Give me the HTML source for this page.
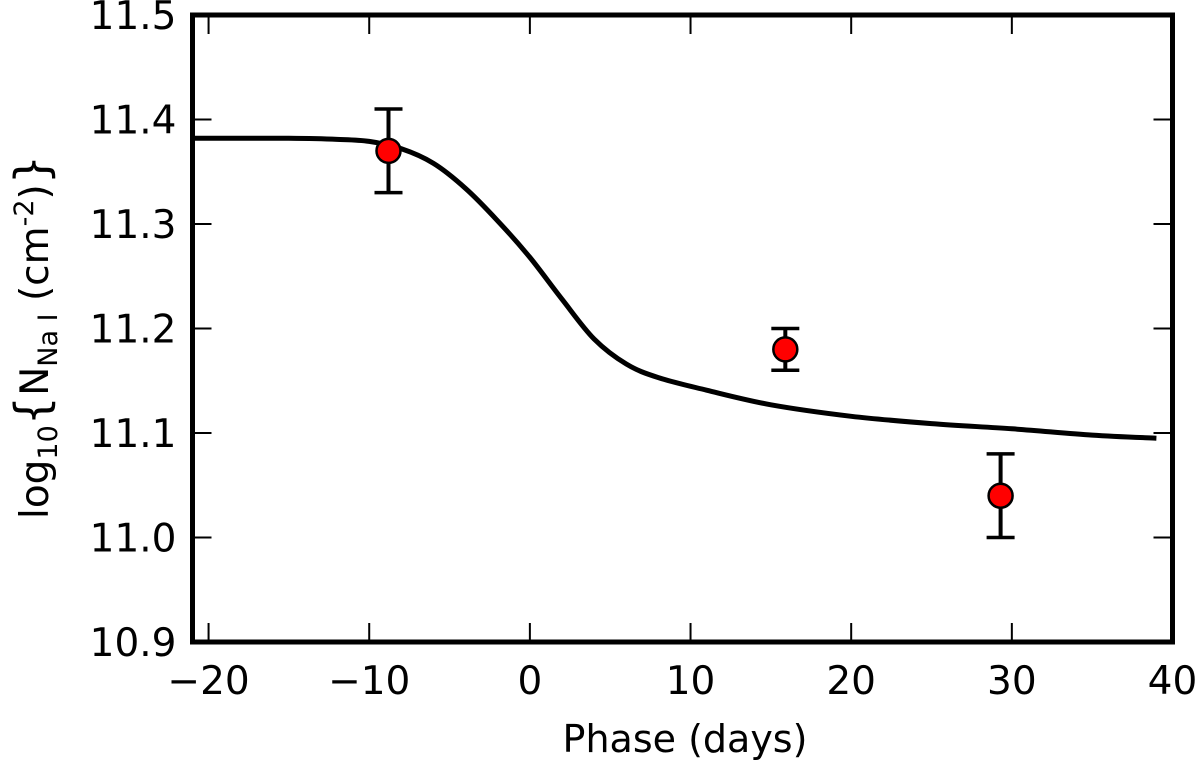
<!DOCTYPE html>
<html><head><meta charset="utf-8"><style>
body{margin:0;background:#fff;}
svg{display:block;font-family:"DejaVu Sans","Liberation Sans",sans-serif;}
</style></head><body>
<svg id="chart" width="1200" height="762" viewBox="0 0 1200 762" xmlns="http://www.w3.org/2000/svg">
<text x="685" y="752" font-size="38" text-anchor="middle">Phase (days)</text>
<text transform="translate(48,337) rotate(-90)" font-size="39" text-anchor="middle">log<tspan font-size="27" dy="9">10</tspan><tspan dy="-9" font-size="46">{</tspan>N<tspan font-size="27" dy="9">Na I</tspan><tspan dy="-9"> (cm</tspan><tspan font-size="27" dy="-15">-2</tspan><tspan dy="15">)</tspan><tspan font-size="46">}</tspan></text>
</svg>
<script>
const xTicks=[-20,-10,0,10,20,30,40];
const yTicks=[10.9,11.0,11.1,11.2,11.3,11.4,11.5];
const yTickLabels=["10.9","11.0","11.1","11.2","11.3","11.4","11.5"];
const modelPhase=[-21,-15,-12,-10,-8,-6,-4,-2,0,2,4,6,8,11,15,20,25,30,35,39];
const modelLogN=[11.382,11.382,11.381,11.379,11.372,11.358,11.334,11.303,11.268,11.228,11.19,11.166,11.153,11.141,11.127,11.116,11.109,11.104,11.098,11.095];
const obsPhase=[-8.8,15.9,29.3];
const obsLogN=[11.37,11.18,11.04];
const obsErr=[0.04,0.02,0.04];

const L=192.5,R=1172.5,T=15,B=642;
const xmin=-21,xmax=40,ymin=10.9,ymax=11.5;
const X=v=>L+(v-xmin)/(xmax-xmin)*(R-L);
const Y=v=>B-(v-ymin)/(ymax-ymin)*(B-T);
const ns="http://www.w3.org/2000/svg";
const svg=document.getElementById('chart');
function mk(t,a,parent){const e=document.createElementNS(ns,t);for(const k in a)e.setAttribute(k,a[k]);(parent||svg).appendChild(e);return e;}

const P=modelPhase.map((p,i)=>[X(p),Y(modelLogN[i])]);
let d='M'+P[0][0].toFixed(1)+','+P[0][1].toFixed(1);
for(let i=0;i<P.length-1;i++){
  const p0=P[Math.max(i-1,0)],p1=P[i],p2=P[i+1],p3=P[Math.min(i+2,P.length-1)];
  const c1=[p1[0]+(p2[0]-p0[0])/6,p1[1]+(p2[1]-p0[1])/6];
  const c2=[p2[0]-(p3[0]-p1[0])/6,p2[1]-(p3[1]-p1[1])/6];
  d+=` C${c1[0].toFixed(1)},${c1[1].toFixed(1)} ${c2[0].toFixed(1)},${c2[1].toFixed(1)} ${p2[0].toFixed(1)},${p2[1].toFixed(1)}`;
}
const curve=mk('path',{d:d,fill:'none',stroke:'#000','stroke-width':5,'stroke-linejoin':'round'});



obsPhase.forEach((p,i)=>{
  const g=mk('g',{});
  
  
  const x=X(p),y1=Y(obsLogN[i]+obsErr[i]),y2=Y(obsLogN[i]-obsErr[i]);
  mk('line',{x1:x,x2:x,y1:y1,y2:y2,stroke:'#000','stroke-width':4},g);
  mk('line',{x1:x-14,x2:x+14,y1:y1,y2:y1,stroke:'#000','stroke-width':3.5},g);
  mk('line',{x1:x-14,x2:x+14,y1:y2,y2:y2,stroke:'#000','stroke-width':3.5},g);
  mk('circle',{cx:x,cy:Y(obsLogN[i]),r:12,fill:'#f00',stroke:'#000','stroke-width':2.5},g);
});

xTicks.forEach(t=>{
  const x=X(t);
  mk('line',{x1:x,x2:x,y1:B,y2:B-19,stroke:'#000','stroke-width':2});
  mk('line',{x1:x,x2:x,y1:T,y2:T+19,stroke:'#000','stroke-width':2});
  const tx=mk('text',{x:x,y:B+52,'font-size':39,'text-anchor':'middle'});
  
  
  tx.textContent=t<0?'\u2212'+(-t):String(t);
});
yTicks.forEach((t,i)=>{
  const y=Y(t);
  mk('line',{x1:L,x2:L+19,y1:y,y2:y,stroke:'#000','stroke-width':2});
  mk('line',{x1:R,x2:R-19,y1:y,y2:y,stroke:'#000','stroke-width':2});
  const tx=mk('text',{x:L-16,y:y+14,'font-size':39,'text-anchor':'end'});
  
  
  tx.textContent=yTickLabels[i];
});
const fr=mk('rect',{x:L,y:T,width:R-L,height:B-T,fill:'none',stroke:'#000','stroke-width':5});


</script>
</body></html>
